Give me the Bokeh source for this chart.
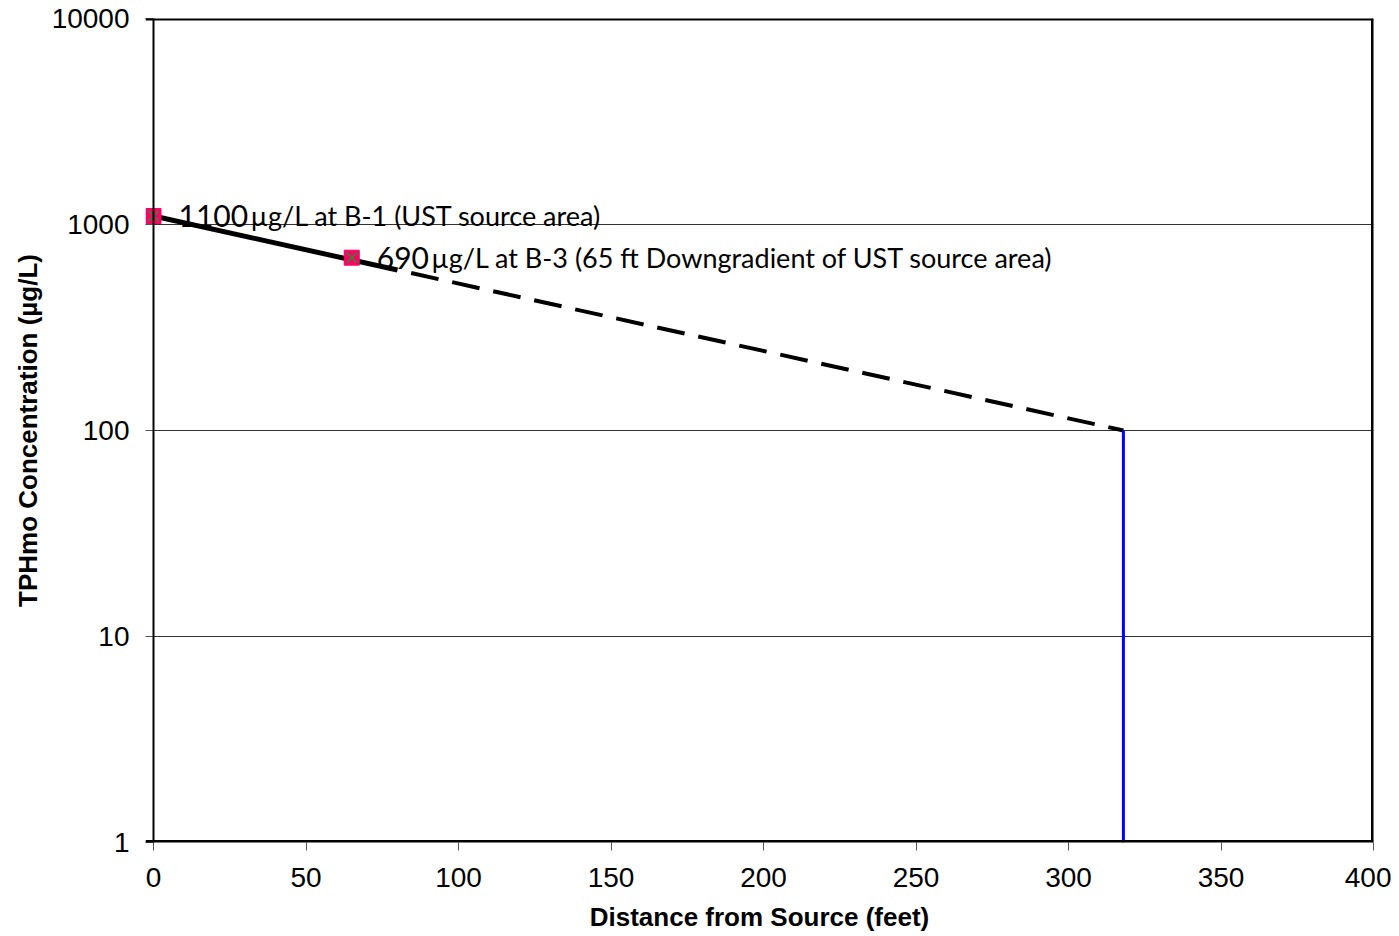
from bokeh.plotting import figure
from bokeh.models import ColumnDataSource, FixedTicker, CustomJSTickFormatter, Span
from bokeh.core.properties import value
from bokeh.embed import file_html
from bokeh.resources import INLINE

# ---- data ----
distance_ft = [0, 65]
conc_ugL = [1100, 690]
label_num = ["1100", "690"]
label_txt = ["\u00b5g/L at B-1 (UST source area)",
             "\u00b5g/L at B-3 (65 ft Downgradient of UST source area)"]

trend_solid_x = [0, 80]
trend_solid_y = [1100, 601]
trend_dash_x = [80, 318]
trend_dash_y = [601, 100]

limit_x = [318, 318]
limit_y = [1, 100]

x_ticks = [0, 50, 100, 150, 200, 250, 300, 350, 400]
y_ticks = [1, 10, 100, 1000, 10000]

X_MIN, X_MAX = 0, 400
Y_MIN, Y_MAX = 1, 10000

# small pad left of x=0 so the marker at 0 ft is not clipped
PAD = 2.623

p = figure(width=1391, height=936, x_range=(X_MIN - PAD, X_MAX),
           y_range=(Y_MIN, Y_MAX),
           y_axis_type="log", output_backend="svg", toolbar_location=None,
           min_border_left=145, min_border_right=18, min_border_top=18,
           min_border_bottom=94, background_fill_color="white",
           border_fill_color="white")

p.outline_line_color = None

# axes
for ax in (p.xaxis, p.yaxis):
    ax.axis_line_color = None
    ax.major_tick_line_color = "#555555"
    ax.major_tick_line_width = 1
    ax.minor_tick_line_color = None
    ax.major_label_text_font = "Liberation Sans"
    ax.major_label_text_font_size = "28px"
    ax.major_label_text_color = "black"
    ax.axis_label_text_font = "Liberation Sans"
    ax.axis_label_text_font_style = "bold"
    ax.axis_label_text_font_size = "26px"
    ax.axis_label_text_color = "black"

p.xaxis.major_tick_in = 0
p.xaxis.major_tick_out = 8
p.yaxis.major_tick_in = 8
p.yaxis.major_tick_out = 0

p.xaxis.ticker = FixedTicker(ticks=x_ticks)
p.yaxis.ticker = FixedTicker(ticks=y_ticks)
p.yaxis.formatter = CustomJSTickFormatter(code="return tick.toFixed(0);")
p.xaxis.major_label_standoff = 17
p.yaxis.major_label_standoff = 16
p.xaxis.axis_label = "Distance from Source (feet)"
p.yaxis.axis_label = "TPHmo Concentration (\u00b5g/L)"
p.xaxis.axis_label_standoff = 12
p.yaxis.axis_label_standoff = 6

p.xgrid.grid_line_color = None
p.ygrid.ticker = FixedTicker(ticks=[10, 100, 1000])
p.ygrid.grid_line_color = "#333333"
p.ygrid.grid_line_width = 1

# plot-area border drawn at the data limits (edge ones are half clipped)
p.add_layout(Span(location=X_MIN, dimension="height", line_color="black", line_width=2))
p.add_layout(Span(location=X_MAX, dimension="height", line_color="black", line_width=5))
p.add_layout(Span(location=Y_MIN, dimension="width", line_color="black", line_width=5))
p.add_layout(Span(location=Y_MAX, dimension="width", line_color="black", line_width=4))

# trend lines
p.line(trend_dash_x, trend_dash_y, line_color="black", line_width=4,
       line_dash="28 14", line_dash_offset=28)
p.line(trend_solid_x, trend_solid_y, line_color="black", line_width=5)

# limit line
p.line(limit_x, limit_y, line_color="#0000FF", line_width=3)

# markers
src = ColumnDataSource(dict(x=distance_ft, y=conc_ugL, num=label_num,
                            txt=label_txt,
                            txt_off=[27 + 17.5 * len(s) for s in label_num]))
p.scatter("x", "y", source=src, marker="square", size=15,
          fill_color="#FF0066", line_color="#FF0066")
p.scatter("x", "y", source=src, marker="x", size=15,
          line_color="#2E8B2E", line_width=1.5)

# labels
p.text("x", "y", text="num", source=src, x_offset=25, y_offset=0,
       text_font=value("Lato"), text_font_size="30px",
       text_baseline="middle", text_color="black")
p.text("x", "y", text="txt", source=src, x_offset="txt_off", y_offset=0,
       text_font=value("Lato"), text_font_size="27px",
       text_baseline="middle", text_color="black")

open("out.html", "w").write(file_html(p, INLINE))
